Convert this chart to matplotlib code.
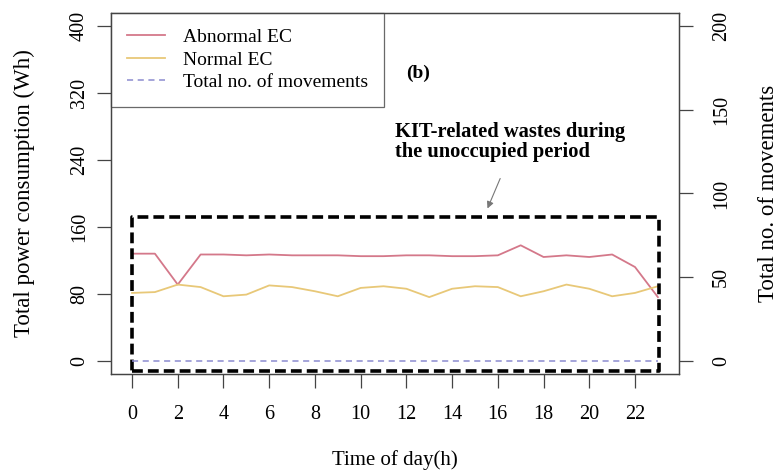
import numpy as np
import matplotlib.pyplot as plt

plt.rcParams['font.family'] = ['Liberation Serif', 'DejaVu Serif']

# hourly values
hours = list(range(24))
abnormal_ec = [128, 128, 91, 127, 127, 126, 127, 126, 126, 126, 125, 125, 126,
               126, 125, 125, 126, 138, 124, 126, 124, 127, 112, 76]
normal_ec = [81, 82, 91, 88, 77, 79, 90, 88, 83, 77, 87, 89, 86,
             76, 86, 89, 88, 77, 83, 91, 86, 77, 81, 89]
movements = [0] * 24

left_ticks = [0, 80, 160, 240, 320, 400]
right_ticks = [0, 50, 100, 150, 200]
x_ticks = list(range(0, 23, 2))

fig = plt.figure(figsize=(7.79, 4.70), dpi=100)
ax = fig.add_axes([0.1425, 0.2043, 0.729, 0.768])
ax2 = ax.twinx()

l1, = ax.plot(hours, abnormal_ec, color='#d4788a', lw=1.3)
l2, = ax.plot(hours, normal_ec, color='#e8c878', lw=1.3)
l3, = ax2.plot(hours, movements, color='#8c8cd0', lw=1.1, ls=(0, (4, 3)))

# highlighted unoccupied period
x0, x1 = hours[0], hours[-1] + 0.05
y0, y1 = -13, 172
ax.plot([x0, x1, x1, x0, x0], [y0, y0, y1, y1, y0], color='black', lw=2.6,
        ls=(0, (3, 1.4)))

ax.annotate('', xy=(15.5, 179), xytext=(16.15, 221),
            arrowprops=dict(arrowstyle='-|>', color='#777777', lw=0.8,
                            mutation_scale=10))
ax.text(11.5, 262, 'KIT-related wastes during\nthe unoccupied period',
        fontsize=14.8, fontweight='bold', linespacing=1.0, va='center')
ax.text(12.5, 344, '(b)', fontsize=14, fontweight='bold', ha='center',
        va='center')

ax.set_xlim(-0.92, 23.92)
ax.set_ylim(-16, 416)
ax2.set_ylim(-8, 208)
ax.set_xticks(x_ticks)
ax.set_yticks(left_ticks)
ax2.set_yticks(right_ticks)
ax.set_yticklabels(left_ticks, rotation=90, va='center')
ax2.set_yticklabels(right_ticks, rotation=90, va='center')

for a in (ax, ax2):
    a.tick_params(length=10, width=0.9, labelsize=14.5, pad=6, color='#444444')
    for s in a.spines.values():
        s.set_linewidth(0.9)
        s.set_color('#444444')
ax.tick_params(axis='x', pad=12)
ax2.tick_params(axis='y', pad=14)

ax.set_xlabel('Time of day(h)', fontsize=15, labelpad=19)
ax.set_ylabel('Total power consumption (Wh)', fontsize=16.5, labelpad=25)
ax2.set_ylabel('Total no. of movements', fontsize=16.5, labelpad=19)

leg = ax.legend([l1, l2, l3],
                ['Abnormal EC', 'Normal EC', 'Total no. of movements'],
                loc='upper left', bbox_to_anchor=(0, 1), borderaxespad=0,
                fancybox=False, edgecolor='#444444', fontsize=14,
                handlelength=2.0, handletextpad=0.9, labelspacing=0.25,
                borderpad=0.8)
leg.get_frame().set_linewidth(0.9)

fig.savefig('out.png', dpi=100)
